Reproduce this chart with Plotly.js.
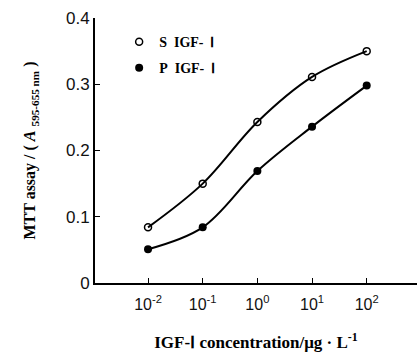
<!DOCTYPE html>
<html><head><meta charset="utf-8">
<script src="https://cdn.plot.ly/plotly-3.0.1.min.js"></script>
<style>html,body{margin:0;padding:0;background:#fff}#c{width:417px;height:357px}</style>
</head><body><div id="c"></div>
<script>
const conc = [0.01, 0.1, 1, 10, 100];
const sIGF = [0.084, 0.150, 0.243, 0.311, 0.350];
const pIGF = [0.051, 0.084, 0.169, 0.236, 0.298];
const seriesNames = ['S\u00a0\u00a0IGF-\u00a0\u00a0Ⅰ', 'P\u00a0\u00a0IGF-\u00a0\u00a0Ⅰ'];
const xTickVals = [0.01, 0.1, 1, 10, 100];
const xTickText = ['10<sup>-2</sup>', '10<sup>-1</sup>', '10<sup>0</sup>', '10<sup>1</sup>', '10<sup>2</sup>'];
const yTickVals = [0, 0.1, 0.2, 0.3, 0.4];
const yTickText = ['0', '0.1', '0.2', '0.3', '0.4'];

const lineStyle = {color: '#000', width: 2, shape: 'spline', smoothing: 1};
const mS = {symbol: 'circle-open', size: 7, color: '#000', line: {width: 1.5, color: '#000'}};
const mP = {symbol: 'circle', size: 8, color: '#000'};

const traces = [
  {x: conc, y: sIGF, name: seriesNames[0], mode: 'lines+markers', line: lineStyle, marker: mS, showlegend: false},
  {x: conc, y: pIGF, name: seriesNames[1], mode: 'lines+markers', line: lineStyle, marker: mP, showlegend: false},
  {x: [null], y: [null], name: seriesNames[0], mode: 'markers', marker: mS, legend: 'legend', showlegend: true},
  {x: [null], y: [null], name: seriesNames[1], mode: 'markers', marker: mP, legend: 'legend2', showlegend: true}
];

const legFont = {family: 'Liberation Serif', size: 14, color: '#000', weight: 'bold'};
const layout = {
  width: 417, height: 357,
  margin: {l: 95, r: 0, t: 18, b: 74},
  paper_bgcolor: '#fff', plot_bgcolor: '#fff',
  showlegend: true,
  legend: {x: 0.075, y: 0.909, xanchor: 'left', yanchor: 'middle', bgcolor: 'rgba(0,0,0,0)',
           font: legFont, itemwidth: 30},
  legend2: {x: 0.075, y: 0.811, xanchor: 'left', yanchor: 'middle', bgcolor: 'rgba(0,0,0,0)',
           font: legFont, itemwidth: 30},
  xaxis: {type: 'log', range: [-2.97, 2.92], tickvals: xTickVals, ticktext: xTickText,
          ticks: 'inside', ticklen: 5, tickcolor: '#000', showline: true, linecolor: '#000', linewidth: 2,
          showgrid: false, zeroline: false, ticklabelstandoff: 6,
          tickfont: {family: 'Liberation Sans', size: 16, color: '#111'},
          title: {text: 'IGF-Ⅰ concentration/μg · L<sup>-1</sup>', standoff: 24,
                  font: {family: 'Liberation Serif', size: 17, color: '#000', weight: 'bold'}}},
  yaxis: {range: [0, 0.4], tickvals: yTickVals, ticktext: yTickText,
          ticks: 'inside', ticklen: 5, tickcolor: '#000', showline: true, linecolor: '#000', linewidth: 2,
          showgrid: false, zeroline: false,
          tickfont: {family: 'Liberation Sans', size: 17, color: '#111'},
          title: {text: 'MTT assay / ( <i>A</i> <sub>595-655 nm</sub> )', standoff: 26,
                  font: {family: 'Liberation Serif', size: 16, color: '#000', weight: 'bold'}}}
};
Plotly.newPlot('c', traces, layout, {displayModeBar: false, staticPlot: true});
</script></body></html>
